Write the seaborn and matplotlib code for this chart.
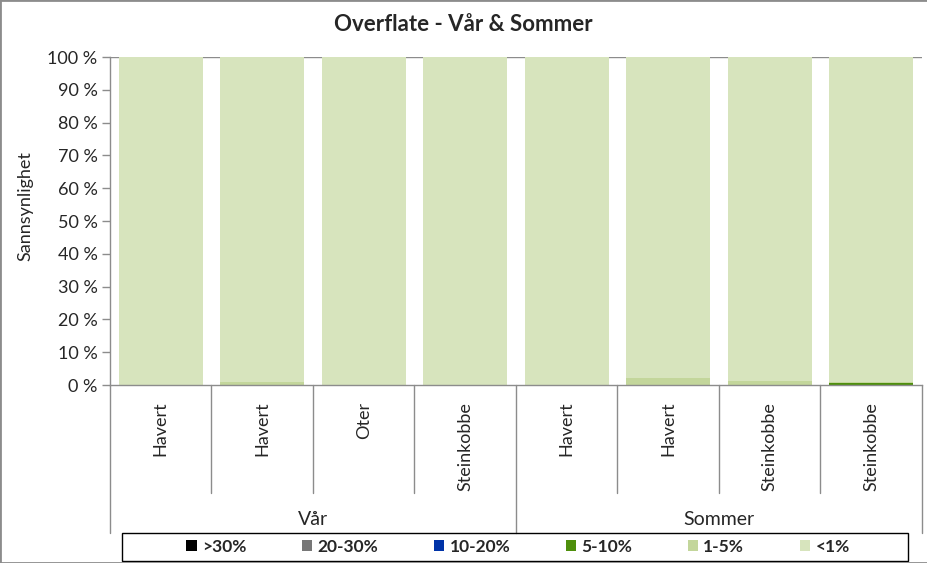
import matplotlib
matplotlib.use("Agg")
import matplotlib.pyplot as plt
from matplotlib.patches import Patch, Rectangle
from matplotlib.lines import Line2D
import seaborn as sns
import pandas as pd

# data (percent of each bar)
species = ["Havert", "Havert", "Oter", "Steinkobbe",
           "Havert", "Havert", "Steinkobbe", "Steinkobbe"]
seasons = ["Vår", "Sommer"]
bar_season = ["Vår", "Vår", "Vår", "Vår", "Sommer", "Sommer", "Sommer", "Sommer"]
classes = [">30%", "20-30%", "10-20%", "5-10%", "1-5%", "<1%"]
over30 = [0, 0, 0, 0, 0, 0, 0, 0]
p20_30 = [0, 0, 0, 0, 0, 0, 0, 0]
p10_20 = [0, 0, 0, 0, 0, 0, 0, 0]
p5_10 = [0, 0, 0, 0, 0, 0, 0, 0.6]
p1_5 = [0, 1.0, 0, 0, 0, 2.1, 1.2, 0.3]
under1 = [100, 99.0, 100, 100, 100, 97.9, 98.8, 99.1]
colors = ["#000000", "#777777", "#0033a8", "#4e8f0c", "#c3d69b", "#d7e4bd"]

ids = [str(i) for i in range(len(species))]
layers = [over30, p20_30, p10_20, p5_10, p1_5, under1]
df = pd.DataFrame({c: v for c, v in zip(classes, layers)})
cum = df[classes].cumsum(axis=1)
cum["bar"] = ids

sns.set_style("white")
plt.rcParams["font.family"] = ["Lato", "DejaVu Sans"]

fig = plt.figure(figsize=(9.28, 5.63), dpi=100)
ax = fig.add_axes([110 / 928, 1 - 385 / 563, 812 / 928, 328 / 563])

ax.axhline(100, color="#8c8c8c", lw=1, zorder=0)
# stacked bars: draw cumulative totals from the top layer down
for k in range(len(classes) - 1, -1, -1):
    sns.barplot(data=cum, x="bar", y=classes[k], order=ids, color=colors[k],
                saturation=1, width=0.83, linewidth=0, errorbar=None, ax=ax)

ax.set_xlim(-0.5, len(ids) - 0.5)
ax.set_ylim(0, 100)
ax.set_yticks(range(0, 101, 10))
ax.set_yticklabels([f"{v} %" for v in range(0, 101, 10)])
ax.set_xticks(range(len(ids)))
ax.set_xticklabels(species, rotation=90, va="top", ha="center")
ax.tick_params(axis="y", direction="out", length=6, width=1, color="#8c8c8c",
               labelsize=13, pad=3, left=True)
ax.tick_params(axis="x", length=0, labelsize=13, pad=12)
ax.set_xlabel("")
ax.set_ylabel("")
for s in ["top", "right"]:
    ax.spines[s].set_visible(False)
for s in ["left", "bottom"]:
    ax.spines[s].set_color("#8c8c8c")
    ax.spines[s].set_linewidth(1)

# multi-level category separators
tr = ax.get_xaxis_transform()
for i in range(len(ids) + 1):
    x = i - 0.5
    long_line = i == 0 or i == len(ids) or bar_season[i - 1] != bar_season[min(i, len(ids) - 1)]
    y1 = -0.451 if long_line else -0.329
    ax.add_line(Line2D([x, x], [0, y1], transform=tr, color="#8c8c8c",
                       lw=1, clip_on=False))
for s in seasons:
    pos = [i for i, b in enumerate(bar_season) if b == s]
    ax.text(sum(pos) / len(pos), -0.409, s, transform=tr, ha="center",
            va="center", fontsize=14)

fig.text(0.499, 0.956, "Overflate - Vår & Sommer", ha="center", va="center",
         fontsize=16, fontweight="bold")
fig.text(0.027, 0.634, "Sannsynlighet", rotation=90, ha="center", va="center",
         fontsize=13)

# legend box spans the plot width, entries centred inside it
fig.add_artist(Rectangle((122 / 928, 2 / 563), 786 / 928, 28 / 563,
                         transform=fig.transFigure, fill=False,
                         edgecolor="black", lw=1))
handles = [Patch(facecolor=c, edgecolor="none", label=l) for c, l in zip(colors, classes)]
fig.legend(handles=handles, loc="center", ncol=6,
           bbox_to_anchor=(518 / 928, 1 - 547 / 563),
           frameon=False, handlelength=0.6, handleheight=0.6,
           handletextpad=0.3, columnspacing=3.2,
           prop={"weight": "bold", "size": 12.5})

fig.add_artist(Rectangle((0, 0), 1, 1, transform=fig.transFigure, fill=False,
                         edgecolor="#8c8c8c", lw=2))

fig.savefig("out.png", dpi=100)
